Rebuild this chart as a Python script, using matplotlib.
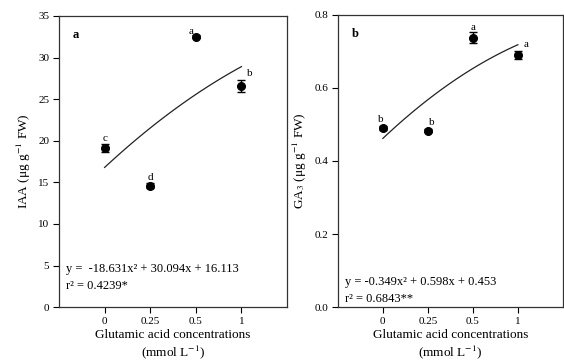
import numpy as np
import matplotlib
matplotlib.use('Agg')
import matplotlib.pyplot as plt

plt.rcParams['font.family'] = ['Liberation Serif', 'DejaVu Serif']
plt.rcParams['mathtext.fontset'] = 'stix'

# data
conc_labels = ['0', '0.25', '0.5', '1']
iaa = [19.1, 14.6, 32.5, 26.6]
iaa_err = [0.5, 0.3, 0.2, 0.7]
iaa_letters = ['c', 'd', 'a', 'b']
ga3 = [0.490, 0.483, 0.738, 0.690]
ga3_err = [0.006, 0.004, 0.016, 0.010]
ga3_letters = ['b', 'b', 'a', 'a']

fig = plt.figure(figsize=(5.64, 3.63), dpi=100)
ax1 = fig.add_axes([0.1046, 0.154, 0.4044, 0.802])
ax2 = fig.add_axes([0.599, 0.154, 0.399, 0.805])

pos = np.arange(len(conc_labels))


def panel(ax, y, err, letters, ylim, yticks, ytl, ylabel, tag, eq, r2,
          letter_off, letter_dx, eq_y):
    ax.errorbar(pos, y, yerr=err, fmt='o', color='black', ms=5.5,
                capsize=3.2, elinewidth=1, capthick=1, zorder=3)
    # quadratic trend fitted over the category positions
    coef = np.polyfit(pos, y, 2)
    xs = np.linspace(0, 3, 100)
    ax.plot(xs, np.polyval(coef, xs), color='#222222', lw=0.9)
    for i, (l, v, e) in enumerate(zip(letters, y, err)):
        ax.text(pos[i] + letter_dx[i], v + e + letter_off[i], l, ha='center',
                va='bottom', fontsize=8, zorder=5)
    ax.set_xlim(-1, 4)
    ax.set_ylim(*ylim)
    ax.set_xticks(pos)
    ax.set_xticklabels(conc_labels)
    ax.set_yticks(yticks)
    ax.set_yticklabels(ytl)
    ax.tick_params(labelsize=8, direction='out', length=4, width=0.8, pad=3)
    for s in ax.spines.values():
        s.set_linewidth(0.9)
        s.set_color('#333333')
    ax.set_ylabel(ylabel, fontsize=9.5)
    ax.set_xlabel('Glutamic acid concentrations\n(mmol L$^{-1}$)', fontsize=9.5,
                  labelpad=2)
    ax.text(0.06, 0.955, tag, transform=ax.transAxes, fontsize=9,
            fontweight='bold', va='top')
    ax.text(0.03, eq_y, eq, transform=ax.transAxes, fontsize=9)
    ax.text(0.03, eq_y - 0.058, r2, transform=ax.transAxes, fontsize=9)


panel(ax1, iaa, iaa_err, iaa_letters, (0, 35), range(0, 36, 5),
      [str(v) for v in range(0, 36, 5)], 'IAA (μg g$^{-1}$ FW)', 'a',
      'y =  -18.631x² + 30.094x + 16.113', 'r² = 0.4239*',
      [0.15, 0.15, -0.1, 0.3], [0, 0, -0.11, 0.18], 0.12)
panel(ax2, ga3, ga3_err, ga3_letters, (0, 0.8), [0, 0.2, 0.4, 0.6, 0.8],
      ['0.0', '0.2', '0.4', '0.6', '0.8'], 'GA$_3$ (μg g$^{-1}$ FW)', 'b',
      'y = -0.349x² + 0.598x + 0.453', 'r² = 0.6843**',
      [0.004, 0.005, 0.0, 0.006], [-0.04, 0.09, 0, 0.18], 0.075)

fig.savefig('out.png', dpi=100)
